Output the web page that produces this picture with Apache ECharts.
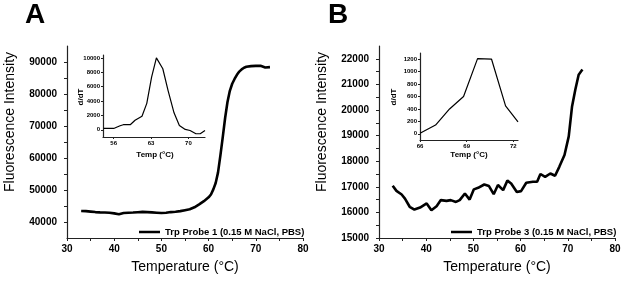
<!DOCTYPE html>
<html>
<head>
<meta charset="utf-8">
<script src="https://cdn.jsdelivr.net/npm/echarts@6/dist/echarts.min.js"></script>
<style>
html,body{margin:0;padding:0;background:#fff;}
#c{width:624px;height:283px;}
</style>
</head>
<body>
<div id="c"></div>
<script>
// ---------- data ----------
const tempA = [33,34,35,36,37,38,39,40,41,42,43,44,45,46,47,48,49,50,51,52,53,54,55,56,57,58,59,60,60.5,61,61.5,62,62.5,63,63.5,64,64.5,65,65.5,66,66.5,67,67.5,68,69,70,71,72,73];
const fluoA = [43450,43400,43250,43100,43000,42950,42900,42700,42450,42800,42900,42950,43050,43150,43100,43000,42900,42800,42900,43100,43200,43400,43700,44000,44600,45500,46500,47700,48600,50200,52200,55500,60800,66500,72500,77500,81000,83200,84700,86000,87000,87700,88200,88500,88700,88800,88800,88300,88400];

const insetTempA = [54.1,56,57.2,57.8,59.1,60,61.3,62.2,63.1,64.0,65.2,66.2,67.3,68.3,69.4,70.3,71.4,72.2,73.1];
const insetDA = [200,190,570,710,710,1320,1890,3680,7310,10000,8490,5420,2360,610,50,-100,-550,-550,-100];

const tempB = [32.9,33.7,34.8,35.5,36.5,37.5,38.7,40.1,41.1,42.2,43.1,44.3,45.2,46.3,47.1,48.2,49.2,50.1,51.0,52.3,53.3,54.3,55.2,56.3,57.2,58.0,59.2,60.1,61.2,62.6,63.5,64.2,65.2,66.3,67.3,68.2,69.3,70.2,70.9,71.6,72.3,73.1];
const fluoB = [17040,16840,16700,16540,16220,16110,16190,16350,16085,16240,16480,16450,16480,16410,16480,16740,16500,16900,16960,17090,17030,16710,17070,16870,17240,17130,16800,16830,17160,17200,17200,17500,17390,17520,17430,17780,18240,18970,20140,20800,21380,21580];

const insetTempB = [66,67,67.9,68.8,69.7,70.6,71.5,72.3];
const insetDB = [10,140,400,600,1210,1200,450,190];

const mainXLabels = [30,40,50,60,70,80];
const mainXTicks = [30,35,40,45,50,55,60,65,70,75,80];
const aYLabels = [40000,50000,60000,70000,80000,90000];
const aYTicks = [40000,45000,50000,55000,60000,65000,70000,75000,80000,85000,90000];
const bYLabels = [15000,16000,17000,18000,19000,20000,21000,22000];
const bYTicks = [15000,15500,16000,16500,17000,17500,18000,18500,19000,19500,20000,20500,21000,21500,22000];
const inAXLabels = [56,63,70];
const inAYLabels = [0,2000,4000,6000,8000,10000];
const inBXLabels = [66,69,72];
const inBYLabels = [0,200,400,600,800,1000,1200];

const nameA = 'Trp Probe 1 (0.15 M NaCl, PBS)';
const nameB = 'Trp Probe 3 (0.15 M NaCl, PBS)';

function pairs(xs, ys){ return xs.map((x,i)=>[x, ys[i]]); }

const FONT = 'Liberation Sans, Arial, sans-serif';
const axisCol = '#222';
const plain = v => String(v);

function mkAxis(grid, min, max, labels, ticks, fs, margin, tickLen){
  return {
    type:'value', gridIndex:grid, min:min, max:max,
    axisLine:{show:true, onZero:false, lineStyle:{color:axisCol, width:1.2}},
    axisTick:{show:true, length:tickLen, customValues:ticks, lineStyle:{color:axisCol, width:1}},
    axisLabel:{show:true, customValues:labels, formatter:plain, margin:margin, color:'#000', fontFamily:FONT, fontWeight:'bold', fontSize:fs},
    splitLine:{show:false}
  };
}

const chart = echarts.init(document.getElementById('c'), null, {renderer:'canvas'});
const option = {
  animation:false,
  backgroundColor:'#fff',
  grid:[
    {left:67, right:321, top:46, bottom:45},
    {left:379, right:9, top:46, bottom:45},
    {left:103, right:419, top:55, bottom:146},
    {left:420, right:106, top:53, bottom:143}
  ],
  xAxis:[
    mkAxis(0, 30, 80, mainXLabels, mainXTicks, 10, 6, 3),
    mkAxis(1, 30, 80, mainXLabels, mainXTicks, 10, 6, 3),
    mkAxis(2, 54, 73.1, inAXLabels, inAXLabels, 6, 3, 2),
    mkAxis(3, 66, 72.3, inBXLabels, inBXLabels, 6, 3, 2)
  ],
  yAxis:[
    mkAxis(0, 35000, 95000, aYLabels, aYTicks, 10, 10, 3),
    mkAxis(1, 15000, 22500, bYLabels, bYTicks, 10, 10, 3),
    mkAxis(2, -1000, 10400, inAYLabels, inAYLabels, 6, 3, 2),
    mkAxis(3, -100, 1300, inBYLabels, inBYLabels, 6, 3, 2)
  ],
  legend:[
    {left:134, top:222, itemWidth:21, itemHeight:2.5, icon:'rect', data:[nameA],
     textStyle:{color:'#000', fontFamily:FONT, fontWeight:'bold', fontSize:9.5}, itemStyle:{color:'#000'}},
    {left:446, top:222, itemWidth:21, itemHeight:2.5, icon:'rect', data:[nameB],
     textStyle:{color:'#000', fontFamily:FONT, fontWeight:'bold', fontSize:9.5}, itemStyle:{color:'#000'}}
  ],
  series:[
    {name:nameA, type:'line', xAxisIndex:0, yAxisIndex:0, data:pairs(tempA, fluoA), symbol:'none',
     lineStyle:{color:'#000', width:2.6}, itemStyle:{color:'#000'}},
    {name:nameB, type:'line', xAxisIndex:1, yAxisIndex:1, data:pairs(tempB, fluoB), symbol:'none',
     lineStyle:{color:'#000', width:2.6}, itemStyle:{color:'#000'}},
    {name:'insetA', type:'line', xAxisIndex:2, yAxisIndex:2, data:pairs(insetTempA, insetDA), symbol:'none',
     lineStyle:{color:'#000', width:1.2}},
    {name:'insetB', type:'line', xAxisIndex:3, yAxisIndex:3, data:pairs(insetTempB, insetDB), symbol:'none',
     lineStyle:{color:'#000', width:1.2}}
  ],
  graphic:[
    {type:'text', x:25, y:15, style:{text:'A', fontFamily:FONT, fontWeight:'bold', fontSize:28, fill:'#000', align:'left', verticalAlign:'middle'}},
    {type:'text', x:328, y:15, style:{text:'B', fontFamily:FONT, fontWeight:'bold', fontSize:28, fill:'#000', align:'left', verticalAlign:'middle'}},
    {type:'text', x:10, y:122, rotation:Math.PI/2, style:{text:'Fluorescence Intensity', fontFamily:FONT, fontSize:14, fill:'#000', align:'center', verticalAlign:'middle'}},
    {type:'text', x:322, y:122, rotation:Math.PI/2, style:{text:'Fluorescence Intensity', fontFamily:FONT, fontSize:14, fill:'#000', align:'center', verticalAlign:'middle'}},
    {type:'text', x:185, y:267, style:{text:'Temperature (°C)', fontFamily:FONT, fontSize:14, fill:'#000', align:'center', verticalAlign:'middle'}},
    {type:'text', x:497, y:267, style:{text:'Temperature (°C)', fontFamily:FONT, fontSize:14, fill:'#000', align:'center', verticalAlign:'middle'}},
    {type:'text', x:155, y:155, style:{text:'Temp (°C)', fontFamily:FONT, fontWeight:'bold', fontSize:8, fill:'#000', align:'center', verticalAlign:'middle'}},
    {type:'text', x:469, y:155, style:{text:'Temp (°C)', fontFamily:FONT, fontWeight:'bold', fontSize:8, fill:'#000', align:'center', verticalAlign:'middle'}},
    {type:'text', x:81, y:97, rotation:Math.PI/2, style:{text:'d/dT', fontFamily:FONT, fontWeight:'bold', fontSize:8, fill:'#000', align:'center', verticalAlign:'middle'}},
    {type:'text', x:394, y:97, rotation:Math.PI/2, style:{text:'d/dT', fontFamily:FONT, fontWeight:'bold', fontSize:8, fill:'#000', align:'center', verticalAlign:'middle'}}
  ]
};
chart.setOption(option);
</script>
</body>
</html>
